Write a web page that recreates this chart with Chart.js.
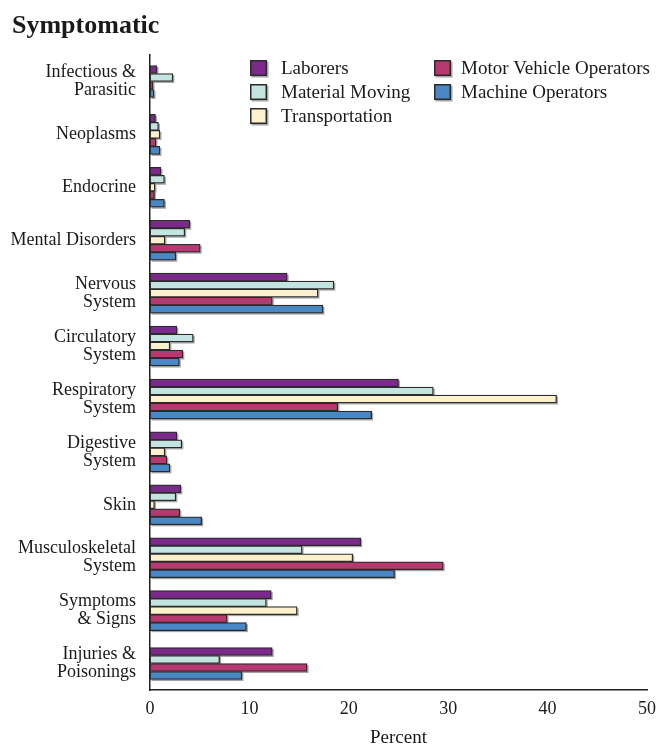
<!DOCTYPE html>
<html>
<head>
<meta charset="utf-8">
<script src="https://cdn.jsdelivr.net/npm/chart.js@4/dist/chart.umd.min.js"></script>
<style>
  html, body { margin: 0; padding: 0; background: #ffffff; }
  #wrap { width: 664px; height: 745px; position: relative; }
</style>
</head>
<body>
<div id="wrap"><canvas id="c" width="664" height="745"></canvas></div>
<script>
// ---- Data ----
const categories = [
  ["Infectious &", "Parasitic"],
  "Neoplasms",
  "Endocrine",
  "Mental Disorders",
  ["Nervous", "System"],
  ["Circulatory", "System"],
  ["Respiratory", "System"],
  ["Digestive", "System"],
  "Skin",
  ["Musculoskeletal", "System"],
  ["Symptoms", "& Signs"],
  ["Injuries &", "Poisonings"]
];
const seriesNames = ["Laborers", "Material Moving", "Transportation", "Motor Vehicle Operators", "Machine Operators"];
const laborers       = [0.7, 0.55, 1.1, 4.0, 13.8, 2.7, 25.0, 2.7, 3.1, 21.2, 12.2, 12.3];
const materialMoving = [2.3, 0.85, 1.45, 3.5, 18.5, 4.35, 28.5, 3.2, 2.6, 15.3, 11.7, 7.0];
const transportation = [null, 1.0, 0.5, 1.5, 16.9, 2.0, 40.9, 1.5, 0.45, 20.4, 14.8, null];
const motorVehicle   = [0.3, 0.6, 0.45, 5.05, 12.3, 3.3, 18.9, 1.7, 3.0, 29.5, 7.75, 15.8];
const machineOps     = [0.4, 1.0, 1.45, 2.6, 17.4, 2.95, 22.3, 2.0, 5.2, 24.6, 9.7, 9.25];
const xTicks = [0, 10, 20, 30, 40, 50];

const colors = ["#7B2A8B", "#C3E4E0", "#FBF2CD", "#B7396F", "#4A87C6"];
const serif = "'Liberation Serif', 'Times New Roman', serif";
const borderCol = "#2b2b2b";

const values = [laborers, materialMoving, transportation, motorVehicle, machineOps];
const datasets = seriesNames.map((name, i) => ({
  label: name,
  data: values[i],
  backgroundColor: colors[i],
  borderColor: borderCol,
  borderWidth: 1.3,
  borderSkipped: false,
  barThickness: 8,
  skipNull: true
}));

// Drop shadow under each bar (positions come from the chart's own elements)
const shadowPlugin = {
  id: 'barShadow',
  beforeDatasetsDraw(chart) {
    const ctx = chart.ctx;
    ctx.save();
    ctx.fillStyle = "rgba(90,90,90,0.55)";
    chart.data.datasets.forEach((ds, di) => {
      const meta = chart.getDatasetMeta(di);
      meta.data.forEach((el, j) => {
        if (ds.data[j] === null) return;
        const p = el.getProps(['x', 'y', 'base', 'height'], true);
        const left = Math.min(p.base, p.x), right = Math.max(p.base, p.x);
        ctx.fillRect(left + 1.5, p.y - p.height / 2 + 1.5, right - left, p.height);
      });
    });
    ctx.restore();
  }
};

// Title and custom two-column legend
const decorPlugin = {
  id: 'decor',
  afterDraw(chart) {
    const ctx = chart.ctx;
    ctx.save();
    ctx.fillStyle = "#1a1a1a";
    ctx.font = "bold 26px " + serif;
    ctx.textBaseline = "alphabetic";
    ctx.textAlign = "left";
    ctx.fillText("Symptomatic", 12, 33);

    const slots = [
      {x: 250, y: 68, t: 31}, {x: 250, y: 92, t: 31}, {x: 250, y: 116, t: 31},
      {x: 434, y: 68, t: 27}, {x: 434, y: 92, t: 27}
    ];
    ctx.font = "19px " + serif;
    ctx.textBaseline = "middle";
    chart.data.datasets.forEach((ds, i) => {
      const s = slots[i];
      const bx = s.x, by = s.y - 8, bw = 17, bh = 16;
      ctx.fillStyle = "rgba(90,90,90,0.55)";
      ctx.fillRect(bx + 1.5, by + 1.5, bw, bh);
      ctx.fillStyle = borderCol;
      ctx.fillRect(bx, by, bw, bh);
      ctx.fillStyle = ds.backgroundColor;
      ctx.fillRect(bx + 1.5, by + 1.5, bw - 3, bh - 3);
      ctx.fillStyle = "#1a1a1a";
      ctx.fillText(ds.label, s.x + s.t, s.y + 1);
    });
    ctx.restore();
  }
};

new Chart(document.getElementById('c'), {
  type: 'bar',
  data: { labels: categories, datasets: datasets },
  plugins: [shadowPlugin, decorPlugin],
  options: {
    indexAxis: 'y',
    responsive: false,
    animation: false,
    devicePixelRatio: 1,
    layout: { padding: { top: 55, left: 0, right: 12, bottom: 0 } },
    plugins: { legend: { display: false }, tooltip: { enabled: false }, title: { display: false } },
    scales: {
      x: {
        min: 0, max: 50,
        afterBuildTicks(scale) { scale.ticks = xTicks.map(v => ({ value: v })); },
        afterFit(scale) { scale.height = 55; },
        grid: { display: false, drawTicks: false },
        border: { display: true, color: "#222", width: 1.5 },
        ticks: { color: "#1a1a1a", font: { family: serif, size: 18 }, padding: 8, maxRotation: 0 },
        title: { display: true, text: "Percent", color: "#1a1a1a", font: { family: serif, size: 19, lineHeight: 0.7 }, padding: { top: 0, bottom: 0 } }
      },
      y: {
        afterFit(scale) { scale.width = 150; },
        grid: { display: false, drawTicks: false },
        border: { display: true, color: "#222", width: 1.5 },
        ticks: { color: "#1a1a1a", font: { family: serif, size: 18, lineHeight: 1.0 }, padding: 14, autoSkip: false }
      }
    }
  }
});
</script>
</body>
</html>
